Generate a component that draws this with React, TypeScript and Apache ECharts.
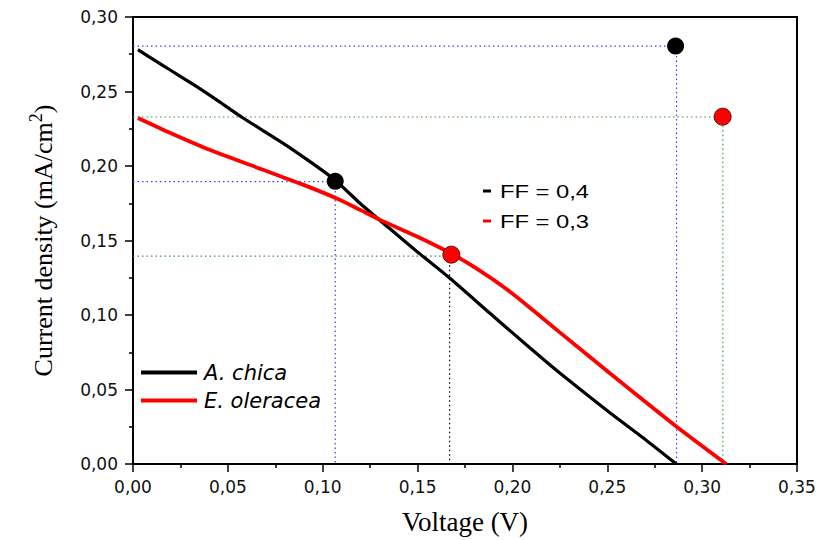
import React, { useEffect, useRef } from "react";
import * as echarts from "echarts";

// A. chica J–V curve
const voltageA = [0.0026, 0.0123, 0.0194, 0.0334, 0.0439, 0.058, 0.079, 0.0931, 0.1063, 0.1195, 0.1353, 0.1493, 0.1669, 0.188, 0.2073, 0.2248, 0.2512, 0.2705, 0.2864];
const currentA = [0.2781, 0.2702, 0.2646, 0.2534, 0.2445, 0.2322, 0.2154, 0.2031, 0.1908, 0.1752, 0.158, 0.143, 0.1248, 0.1013, 0.08, 0.0612, 0.0345, 0.016, 0.0];

// E. oleracea J–V curve
const voltageE = [0.0026, 0.0158, 0.0404, 0.0685, 0.0896, 0.1089, 0.1195, 0.13, 0.15, 0.1678, 0.182, 0.1968, 0.2115, 0.2248, 0.2512, 0.2864, 0.3127];
const currentE = [0.2322, 0.2244, 0.2109, 0.1975, 0.1875, 0.1774, 0.1707, 0.164, 0.1525, 0.1412, 0.1305, 0.1175, 0.1025, 0.0885, 0.0611, 0.0252, 0.0];

// marked points (Vmp,Jmp) and (Voc,Jsc)
const pointsA = [[0.1066, 0.1897], [0.286, 0.2805]];
const pointsE = [[0.1678, 0.1405], [0.3108, 0.2331]];

// guide lines
const guideBlueTop = [[0, 0.2805], [0.2865, 0.2805], [0.2865, 0]];
const guideGreenTop = [[0, 0.2329], [0.3109, 0.2329], [0.3109, 0]];
const guideBlueLow = [[0, 0.1895], [0.1066, 0.1895], [0.1066, 0]];
const guideGreenLow = [[0, 0.1395], [0.1678, 0.1395]];
const guideBlackLow = [[0.1669, 0.1395], [0.1669, 0]];

const seriesNames = ["A. chica", "E. oleracea"];
const ffLabels = ["FF = 0,4", "FF = 0,3"];

const fmt = (v: number) => v.toFixed(2).replace(".", ",");

function zip(xs: number[], ys: number[]) {
  return xs.map((x, i) => [x, ys[i]]);
}

export default function App() {
  const ref = useRef<HTMLDivElement>(null);
  useEffect(() => {
    if (!ref.current) return;
    const chart = echarts.init(ref.current, undefined, { renderer: "svg" });
    const guide = (data: number[][], color: string) => ({
      type: "line",
      data,
      showSymbol: false,
      silent: true,
      z: 1,
      lineStyle: { color, width: 1.2, type: [1.5, 3] },
    });
    const tickFont = { fontFamily: "DejaVu Sans", fontSize: 17, color: "#111" };
    chart.setOption({
      animation: false,
      backgroundColor: "#fff",
      grid: {
        left: 133,
        right: 22,
        top: 17,
        bottom: 76,
        show: true,
        borderColor: "#000",
        borderWidth: 2,
        containLabel: false,
      },
      legend: {
        orient: "vertical",
        left: 136,
        top: 357,
        itemWidth: 56,
        itemHeight: 4,
        itemGap: 7,
        icon: "rect",
        data: seriesNames,
        textStyle: {
          fontFamily: "DejaVu Sans",
          fontStyle: "italic",
          fontSize: 21,
          color: "#000",
          padding: [0, 0, 0, 2],
        },
      },
      xAxis: {
        type: "value",
        min: 0,
        max: 0.35,
        interval: 0.05,
        name: "Voltage (V)",
        nameLocation: "middle",
        nameGap: 44,
        nameTextStyle: { fontFamily: "Liberation Serif", fontSize: 27, color: "#000" },
        axisLine: { show: true, lineStyle: { color: "#000", width: 2 } },
        axisTick: { show: true, length: 8, lineStyle: { color: "#000", width: 1.5 } },
        minorTick: { show: true, splitNumber: 2, length: 4, lineStyle: { color: "#000", width: 1.5 } },
        splitLine: { show: false },
        axisLabel: { ...tickFont, margin: 14, formatter: fmt },
      },
      yAxis: {
        type: "value",
        min: 0,
        max: 0.3,
        interval: 0.05,
        name: "{a|Current density (mA/cm}{s|2}{a|)}",
        nameLocation: "middle",
        nameGap: 74,
        nameRotate: 90,
        nameTextStyle: {
          rich: {
            a: { fontFamily: "Liberation Serif", fontSize: 26, color: "#000", lineHeight: 32 },
            s: { fontFamily: "Liberation Serif", fontSize: 18, color: "#000", verticalAlign: "top", lineHeight: 18 },
          },
        },
        axisLine: { show: true, lineStyle: { color: "#000", width: 2 } },
        axisTick: { show: true, length: 8, lineStyle: { color: "#000", width: 1.5 } },
        minorTick: { show: true, splitNumber: 2, length: 4, lineStyle: { color: "#000", width: 1.5 } },
        splitLine: { show: false },
        axisLabel: { ...tickFont, margin: 15, formatter: fmt },
      },
      graphic: [
        { type: "rect", shape: { x: 483, y: 189.5, width: 8, height: 3 }, style: { fill: "#000" } },
        { type: "rect", shape: { x: 483, y: 219.5, width: 8, height: 3 }, style: { fill: "#ff0000" } },
        {
          type: "text",
          x: 500,
          y: 191.5,
          scaleX: 1.25,
          style: { text: ffLabels[0], font: '19px "Liberation Sans"', fill: "#000", verticalAlign: "middle" },
        },
        {
          type: "text",
          x: 500,
          y: 221.5,
          scaleX: 1.25,
          style: { text: ffLabels[1], font: '19px "Liberation Sans"', fill: "#000", verticalAlign: "middle" },
        },
      ],
      series: [
        guide(guideBlueTop, "#3c3cff"),
        guide(guideGreenTop, "#3a9a3a"),
        guide(guideBlueLow, "#3c3cff"),
        guide(guideGreenLow, "#3a9a3a"),
        guide(guideBlackLow, "#000"),
        {
          name: seriesNames[0],
          type: "line",
          data: zip(voltageA, currentA),
          showSymbol: false,
          smooth: 0.2,
          z: 3,
          itemStyle: { color: "#000" },
          lineStyle: { color: "#000", width: 3.2 },
        },
        {
          name: seriesNames[1],
          type: "line",
          data: zip(voltageE, currentE),
          showSymbol: false,
          smooth: 0.2,
          z: 3,
          itemStyle: { color: "#ff0000" },
          lineStyle: { color: "#ff0000", width: 3.8 },
        },
        {
          type: "scatter",
          data: pointsA,
          symbol: "circle",
          symbolSize: 17,
          z: 5,
          itemStyle: { color: "#000", opacity: 1 },
        },
        {
          type: "scatter",
          data: pointsE,
          symbol: "circle",
          symbolSize: 17,
          z: 5,
          itemStyle: { color: "#ff0000", borderColor: "#551111", borderWidth: 1, opacity: 1 },
        },
      ],
    });
    return () => chart.dispose();
  }, []);
  return (
    <div
      ref={ref}
      style={{ position: "fixed", left: 0, top: 0, width: 819, height: 540, background: "#fff" }}
    />
  );
}
